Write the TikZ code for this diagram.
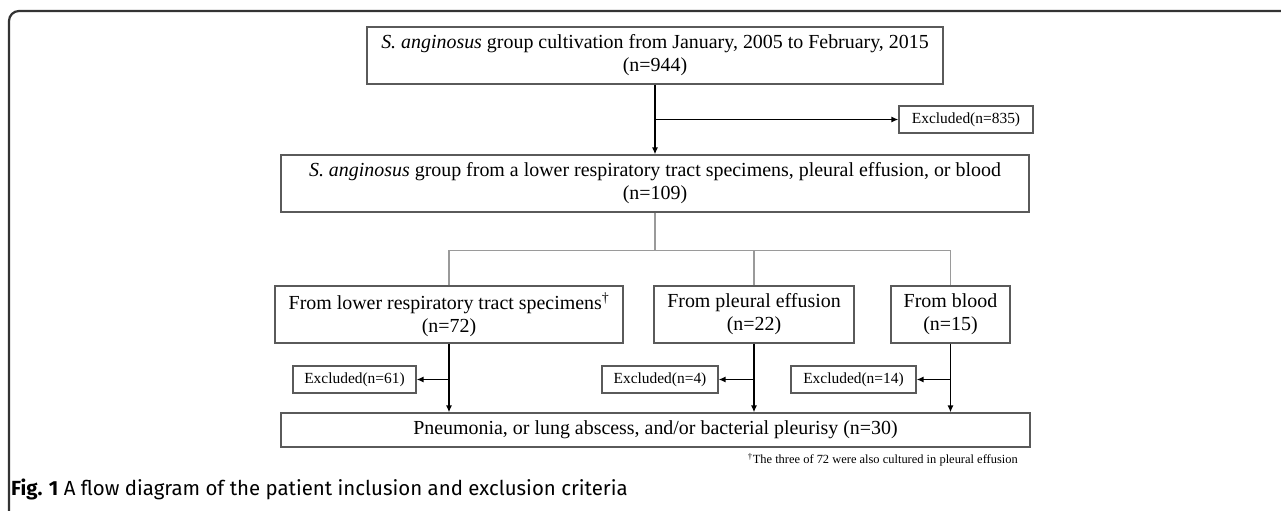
\documentclass[tikz,border=0pt]{standalone}
\usepackage{fontspec}
\setmainfont{Liberation Serif}
\newfontfamily\capfont{Fira Sans}
\usetikzlibrary{shapes,arrows,arrows.meta,positioning}
\definecolor{boxgray}{HTML}{5A5A5A}
\definecolor{treegray}{HTML}{9A9A9A}
\definecolor{framegray}{HTML}{333333}

\begin{document}
\begin{tikzpicture}[x=1bp, y=-1bp,
        box/.style={rectangle, draw=boxgray, line width=1.2bp, align=center, inner sep=0pt, font=\fontsize{20}{23}\selectfont},
        exbox/.style={rectangle, draw=boxgray, line width=1.2bp, inner sep=0pt, minimum height=27bp, font=\fontsize{15.5}{18}\selectfont},
        arrow/.style={-{Latex[length=7bp,width=6bp]}, line width=1.3bp},
        tree/.style={draw=treegray, line width=1.2bp}]
        \useasboundingbox (0,0) rectangle (1281,511);

        % Outer frame
        \draw[framegray, line width=2.2bp, rounded corners=10bp] (9,511) -- (9,11) -- (1281,11);

        % Screening (top)
        \node[box, minimum width=576bp, minimum height=57bp] (top) at (655,55.5) {\textit{S. anginosus} group cultivation from January, 2005 to February, 2015\\(n=944)};
        \node[exbox, minimum width=134bp] (excl0) at (966,119.5) {Excluded(n=835)};
        \node[box, minimum width=748bp, minimum height=57bp] (mid) at (655,183.5) {\textit{S. anginosus} group from a lower respiratory tract specimens, pleural effusion, or blood\\(n=109)};

        % Specimen types (middle)
        \node[box, minimum width=348bp, minimum height=57bp] (lrt) at (449,314.5) {From lower respiratory tract specimens\textsuperscript{\dag}\\(n=72)};
        \node[box, minimum width=200bp, minimum height=57bp] (pe) at (754,314.5) {From pleural effusion\\(n=22)};
        \node[box, minimum width=119bp, minimum height=57bp] (blood) at (950.5,314.5) {From blood\\(n=15)};

        % Exclusions (bottom)
        \node[exbox, minimum width=123bp] (excl1) at (354.5,379.5) {Excluded(n=61)};
        \node[exbox, minimum width=116bp] (excl2) at (660,379.5) {Excluded(n=4)};
        \node[exbox, minimum width=125bp] (excl3) at (853.5,379.5) {Excluded(n=14)};
        \node[box, minimum width=749bp, minimum height=34bp] (final) at (655.5,430) {Pneumonia, or lung abscess, and/or bacterial pleurisy (n=30)};

        % Footnote and caption
        \node[anchor=east, inner sep=0pt, font=\fontsize{12.5}{15}\selectfont] (note) at (1018,460) {\textsuperscript{\dag}The three of 72 were also cultured in pleural effusion};
        \node[anchor=west, inner sep=0pt, font=\capfont\fontsize{20.5}{24}\selectfont] (caption) at (11,489) {\textbf{Fig. 1} A flow diagram of the patient inclusion and exclusion criteria};

        % Arrows
        \draw[arrow] (top) -- (mid);
        \draw[arrow] (top.south |- excl0) -- (excl0.west);
        \draw[tree] (mid.south) -- ++(0,38) -| (lrt.north);
        \draw[tree] (mid.south) ++(0,38) -| (pe.north);
        \draw[tree] (mid.south) ++(0,38) -| (blood.north);
        \draw[arrow] (lrt) -- (lrt |- final.north);
        \draw[arrow] (pe) -- (pe |- final.north);
        \draw[arrow] (blood) -- (blood |- final.north);
        \draw[arrow] (lrt.south |- excl1) -- (excl1.east);
        \draw[arrow] (pe.south |- excl2) -- (excl2.east);
        \draw[arrow] (blood.south |- excl3) -- (excl3.east);
    \end{tikzpicture}
\end{document}
